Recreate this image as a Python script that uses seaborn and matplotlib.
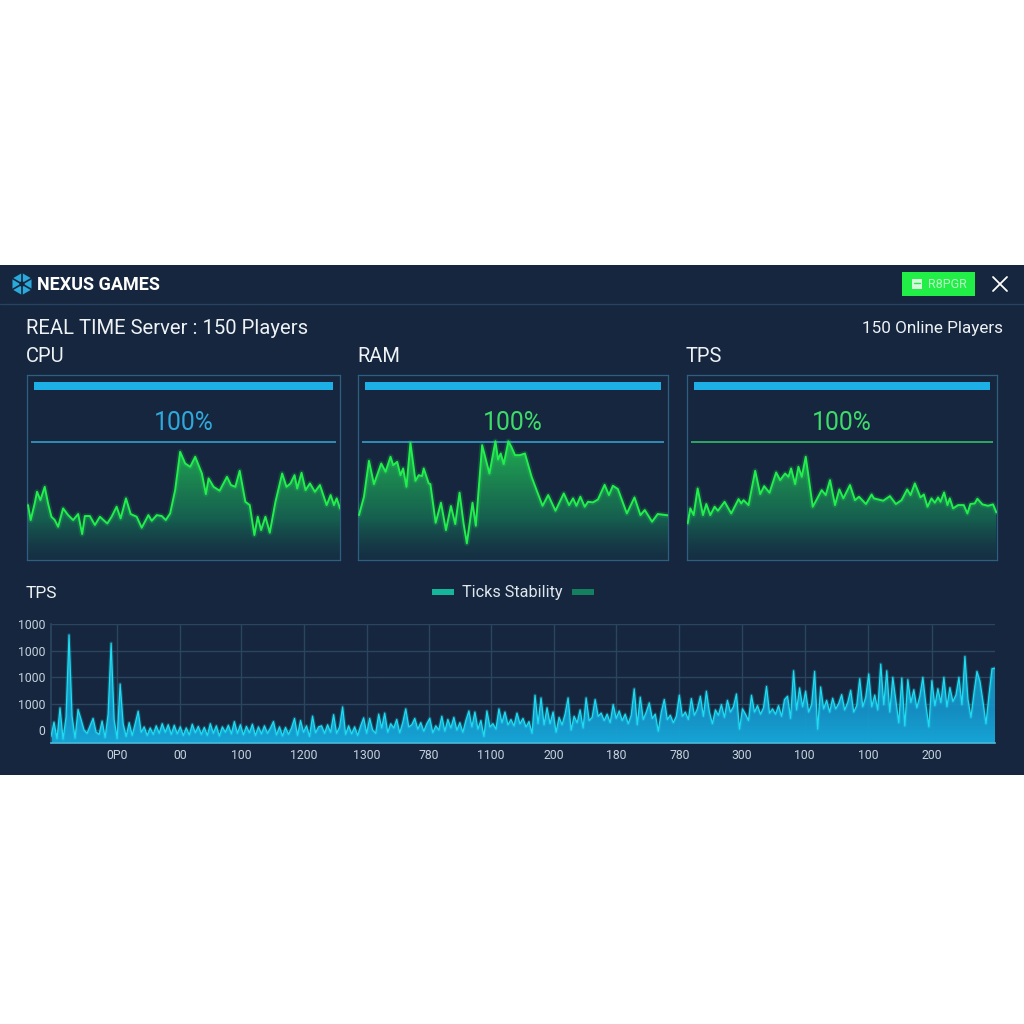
"""Server dashboard panel: CPU / RAM / TPS cards and the ticks stability trace."""

import numpy as np
import matplotlib
matplotlib.use("Agg")
import matplotlib.pyplot as plt
from matplotlib.colors import LinearSegmentedColormap
from matplotlib.patches import Rectangle, RegularPolygon
import seaborn as sns

# CPU card
cpu_t = [85, 93, 105, 112, 122, 135, 145, 155, 165, 175, 190, 205, 220, 235, 247, 255, 270, 285, 300, 322,
         335, 350, 362, 378, 392, 410, 425, 445, 455, 470, 485, 497, 510, 525, 540, 555, 570, 585, 605, 617,
         625, 640, 658, 680, 692, 705, 718, 735, 748, 762, 772, 782, 795, 808, 825, 845, 858, 870, 882, 890,
         903, 915, 928, 943, 958, 978, 990, 1000, 1008, 1018]
cpu_vals = [46.6, 33.9, 48, 57.9, 50.8, 62.1, 48, 36.7, 33.9, 28.2, 43.8, 38.1, 33.9, 39, 22, 37.3, 37.3, 29.7, 36.7, 31,
            36.7, 45.2, 35.3, 52.3, 39, 36.7, 27.4, 38.1, 33.3, 38.1, 37.3, 33.9, 39.5, 59.3, 91.8, 81.9, 79.1, 87.6, 73.4, 55.9,
            69.2, 62.1, 58.8, 70.6, 63.6, 62.1, 75.7, 49.4, 46.6, 21.2, 36.7, 25.4, 36.7, 23.2, 49.4, 73.4, 62.1, 65, 72, 60.7,
            74, 59.3, 65, 57.9, 63.6, 46.6, 55.1, 46.6, 52.3, 43.8]

# RAM card
ram_t = [25, 40, 55, 70, 92, 105, 120, 128, 140, 150, 158, 168, 180, 195, 205, 215, 220, 235, 240, 256,
         272, 287, 302, 315, 328, 340, 350, 367, 377, 396, 418, 436, 444, 452, 461, 475, 484, 495, 510, 525,
         545, 560, 578, 595, 617, 642, 658, 670, 680, 692, 705, 715, 730, 745, 765, 778, 790, 805, 832, 855,
         873, 886, 908, 925, 956]
ram_vals = [38.1, 53.7, 84.2, 64.4, 81.9, 74.9, 87.6, 80.5, 83.3, 72, 77.7, 62.1, 99.4, 67.2, 72, 71.2, 77.7, 65, 64.4, 31.6,
            48.6, 25.4, 45.8, 30.5, 57.1, 31.1, 14.1, 48.6, 29.1, 97.5, 73.4, 100.8, 85.3, 90.4, 81.4, 100.8, 96, 89, 89, 90.4,
            70.6, 59.3, 46, 55.1, 41.8, 56.5, 46.6, 52.3, 46, 53.7, 45.2, 49.4, 48.9, 51.4, 63.8, 55.1, 63, 60.2, 39.5, 53.1,
            38.1, 42.4, 32.5, 39, 37.9]

# TPS card
tps_t = [22, 30, 40, 52, 68, 78, 90, 103, 113, 133, 153, 175, 183, 190, 205, 225, 240, 252, 268, 288,
         300, 315, 325, 333, 345, 355, 365, 377, 398, 410, 425, 437, 450, 465, 478, 490, 510, 525, 537, 558,
         575, 582, 610, 630, 648, 665, 682, 692, 705, 722, 732, 743, 755, 765, 775, 782, 793, 803, 810, 820,
         835, 852, 863, 872, 885, 893, 908, 925, 940, 950]
tps_vals = [31.1, 43.8, 38.1, 60.7, 38.1, 47.5, 38.1, 45.2, 41.8, 49.4, 39.5, 51.7, 48, 50.8, 46.6, 75.7, 55.9, 62.7, 57.1, 74.3,
            67.8, 73.4, 70.6, 77.7, 64.4, 79.1, 70.6, 87.6, 45.2, 51.4, 59.3, 55.1, 67.8, 46.6, 59.9, 52.3, 63.6, 50.8, 53.7, 47.5,
            55.6, 52.3, 50.3, 54.2, 47.5, 50.8, 59.9, 55.1, 65, 53.1, 55.6, 45.2, 52.3, 48.6, 53.1, 49.4, 57.3, 46.6, 52.3, 43.8,
            46.6, 46.6, 39.5, 47.5, 48, 52, 47.2, 46, 47.2, 40.4]

# Bottom ticks trace, one sample every few pixels
ticks_vals = [-60, 75, -80, 209, -85, 120, 897, 130, -75, 194, 100, 0, -30, 40, 110, -20, -40, 85, -70, 150,
              819, 100, -80, 434, 60, -60, 70, -50, 60, 178,
              -20, 30, -50, 20, -40, 40, -30, 60, -20, 50, -40, 45, -35, 30, -50, 20, -45, 55, -25, 35,
              -40, 25, -50, 60, -30, 40, -55, 30, -20, 45,
              -35, 80, -30, 50, -45, 35, -25, 55, -50, 30, -35, 40, -30, 20, 80, -45, 30, -55, 25, -40,
              20, 110, -50, 90, -20, 40, -60, 131, -25, 30,
              40, -30, 50, -20, 145, -30, 30, 218, -40, 40, -35, 30, -50, 40, 115, -30, 110, 0, -30, 150,
              20, 160, -20, 60, 20, 100, -25, 70, 200, 30,
              50, 110, 10, 70, -10, 60, 110, -25, 40, 0, 130, -10, 100, 20, 120, 0, 70, -20, 90, 180,
              30, 170, 10, 90, -60, 180, 30, 60, 10, 200,
              70, 170, 50, 100, 40, 160, 60, 110, 30, 80, -30, 328, 60, 303, 50, 210, 60, 170, -20, 120,
              50, 150, 303, 0, 130, 70, 190, 20, 303, 90,
              120, 288, 130, 160, 90, 150, 70, 240, 110, 180, 90, 150, 60, 140, 388, 50, 310, 100, 170, 256,
              110, 150, -10, 170, 288, 100, 140, 70, 130, 328,
              130, 170, 100, 297, 140, 200, 319, 130, 366, 170, 60, 190, 140, 240, 120, 280, 170, 220, 340, 10,
              200, 150, 90, 328, 170, 230, 150, 210, 412, 160,
              200, 150, 230, 130, 288, 319, 110, 559, 190, 397, 220, 366, 170, 240, 553, 10, 406, 200, 280, 170,
              300, 200, 250, 334, 190, 260, 375, 170, 230, 484,
              220, 310, 528, 220, 330, 190, 622, 240, 559, 170, 497, 280, 69, 490, 40, 475, 260, 380, 210, 320,
              497, 240, 30, 465, 230, 390, 260, 497, 220, 400, 270, 330, 497, 240, 694, 290, 120, 350, 553, 459,
              270, 60, 330, 578, 584]
ticks_t = np.arange(len(ticks_vals))

tick_positions = [22, 43, 63.3, 84, 105, 125.7, 146.3, 167.3, 188, 209, 229.7, 250.7, 271.7, 293]
tick_labels = ["0P0", "00", "100", "1200", "1300", "780", "1100", "200", "180", "780", "300", "100", "100", "200"]
y_positions = [0, 250, 500, 750, 1000]
y_labels = ["0", "1000", "1000", "1000", "1000"]

BG = "#15263e"
BORDER = "#2f5f80"
GREEN = "#22ee4e"
CYAN = "#1fdcf2"
BLUE = "#1cb0e6"

sns.set_theme(style="dark")
plt.rcParams["font.family"] = ["Roboto", "DejaVu Sans"]

fig = plt.figure(figsize=(10.24, 10.24), dpi=100, facecolor="white")


def px_axes(x0, y0, x1, y1):
    """Axes placed with pixel coordinates measured from the top left."""
    ax = fig.add_axes([x0 / 1024, 1 - y1 / 1024, (x1 - x0) / 1024, (y1 - y0) / 1024])
    ax.patch.set_alpha(0)
    return ax


def gradient_fill(ax, t, vals, base, cmap, top):
    """Fill below a line with a vertical gradient clipped to the area."""
    area = ax.fill_between(t, vals, base, color="none", lw=0)
    grad = np.linspace(1, 0, 256).reshape(-1, 1)
    xlim, ylim = ax.get_xlim(), ax.get_ylim()
    im = ax.imshow(grad, cmap=cmap, aspect="auto", vmin=0, vmax=1,
                   extent=(t[0], t[-1], base, top), zorder=1)
    im.set_clip_path(area.get_paths()[0], transform=ax.transData)
    ax.set_xlim(xlim)
    ax.set_ylim(ylim)


# Window chrome
chrome = px_axes(0, 0, 1024, 1024)
chrome.set_xlim(0, 1024)
chrome.set_ylim(1024, 0)
chrome.axis("off")
chrome.add_patch(Rectangle((0, 265), 1024, 510, color=BG, lw=0))
chrome.plot([0, 1024], [304, 304], color="#26445f", lw=1)

chrome.add_patch(RegularPolygon((22, 284), 6, radius=11, color="#2aa9da", lw=0))
for dx, dy in [(0, 11), (9.5, 5.5), (9.5, -5.5)]:
    chrome.plot([22 - dx, 22 + dx], [284 - dy, 284 + dy], color=BG, lw=1.2)
chrome.add_patch(RegularPolygon((22, 284), 6, radius=3, color=BG, lw=0))

chrome.text(37, 285.5, "NEXUS GAMES", color="white", fontsize=13, fontweight="bold", va="center")
chrome.add_patch(Rectangle((902, 272), 73, 24, color="#22ee48", lw=0))
chrome.add_patch(Rectangle((912, 279), 10, 10, color="#d8f8dc", lw=0))
chrome.plot([914, 920], [283, 283], color="#22ee48", lw=1)
chrome.text(928, 285, "R8PGR", color="#b9f5c4", fontsize=9, va="center")
chrome.plot([993, 1007], [277, 291], color="white", lw=1.3)
chrome.plot([993, 1007], [291, 277], color="white", lw=1.3)

chrome.text(26, 328.5, "REAL TIME Server : 150 Players", color="#eef2f5", fontsize=14.6, va="center")
chrome.text(1003, 328, "150 Online Players", color="#eef2f5", fontsize=12.3, va="center", ha="right")
chrome.text(26, 356.5, "CPU", color="#eef2f5", fontsize=14.5, va="center")
chrome.text(357, 356.5, "RAM", color="#eef2f5", fontsize=14.5, va="center")
chrome.text(686, 356.5, "TPS", color="#eef2f5", fontsize=14.5, va="center")
chrome.text(26, 593.5, "TPS", color="#eef2f5", fontsize=12.5, va="center")
chrome.add_patch(Rectangle((432, 589), 22, 6, color="#14b79a", lw=0))
chrome.text(462, 593, "Ticks Stability", color="#dfe7ec", fontsize=11.7, va="center")
chrome.add_patch(Rectangle((572, 589), 22, 6, color="#14805f", lw=0))

# Three gauge cards
green_fill = LinearSegmentedColormap.from_list(
    "green_fill", [(0.0, (0.09, 0.24, 0.30, 0.35)), (0.35, (0.09, 0.40, 0.32, 0.9)), (1.0, (0.13, 0.68, 0.32, 1.0))])
cards = [
    ((27, 375, 340, 560), (82, 1018), cpu_t, cpu_vals, "#2fa8dc", "#38a9d6"),
    ((358, 375, 668, 560), (22, 956), ram_t, ram_vals, "#3ddc6a", "#38a9d6"),
    ((687, 375, 997, 560), (20, 952), tps_t, tps_vals, "#3ddc6a", "#35c96c"),
]
for box, xlim, t, vals, pct_color, rule_color in cards:
    ax = px_axes(*box)
    ax.set_xlim(xlim)
    ax.set_ylim(0, 157)
    ax.barh(147.6, xlim[1] - xlim[0] - 40, height=6.5, left=xlim[0] + 20, color=BLUE, lw=0, zorder=3)
    ax.hlines(100, xlim[0] + 12, xlim[1] - 12, color=rule_color, lw=1.1, zorder=2)
    ax.text(np.mean(xlim), 116.5, "100%", color=pct_color, fontsize=17.8, ha="center", va="center")
    gradient_fill(ax, t, vals, 0, green_fill, 100)
    sns.lineplot(x=t, y=vals, ax=ax, color=GREEN, lw=4, alpha=0.16, errorbar=None, zorder=3)
    sns.lineplot(x=t, y=vals, ax=ax, color=GREEN, lw=1.4, errorbar=None, zorder=4)
    ax.set(xticks=[], yticks=[], xlabel="", ylabel="")
    for spine in ax.spines.values():
        spine.set_visible(True)
        spine.set_color(BORDER)
        spine.set_linewidth(0.9)

# Ticks stability trace
ax = px_axes(51, 624, 995, 743)
ax.set_xlim(0, ticks_t[-1])
ax.set_ylim(-122, 1000)
blue_fill = LinearSegmentedColormap.from_list(
    "blue_fill", [(0.0, (0.09, 0.65, 0.84, 1.0)), (0.3, (0.08, 0.60, 0.82, 0.9)), (1.0, (0.10, 0.80, 0.93, 0.6))])
gradient_fill(ax, ticks_t, ticks_vals, -122, blue_fill, 900)
sns.lineplot(x=ticks_t, y=ticks_vals, ax=ax, color=CYAN, lw=2.6, alpha=0.22, errorbar=None, zorder=3)
sns.lineplot(x=ticks_t, y=ticks_vals, ax=ax, color=CYAN, lw=0.9, errorbar=None, zorder=4)
ax.set_xticks(tick_positions)
ax.set_xticklabels(tick_labels)
ax.set_yticks(y_positions)
ax.set_yticklabels(y_labels)
ax.set(xlabel="", ylabel="")
ax.tick_params(colors="#c6d2dd", labelsize=8.8, length=0, pad=4)
ax.grid(True, color="#2a4560", lw=1)
ax.set_axisbelow(True)
for side in ["top", "right"]:
    ax.spines[side].set_visible(False)
ax.spines["left"].set_visible(True)
ax.spines["left"].set_color("#2a4560")
ax.spines["bottom"].set_visible(True)
ax.spines["bottom"].set_color("#48b6d6")

fig.savefig("out.png", dpi=100, facecolor="white")
plt.close(fig)
